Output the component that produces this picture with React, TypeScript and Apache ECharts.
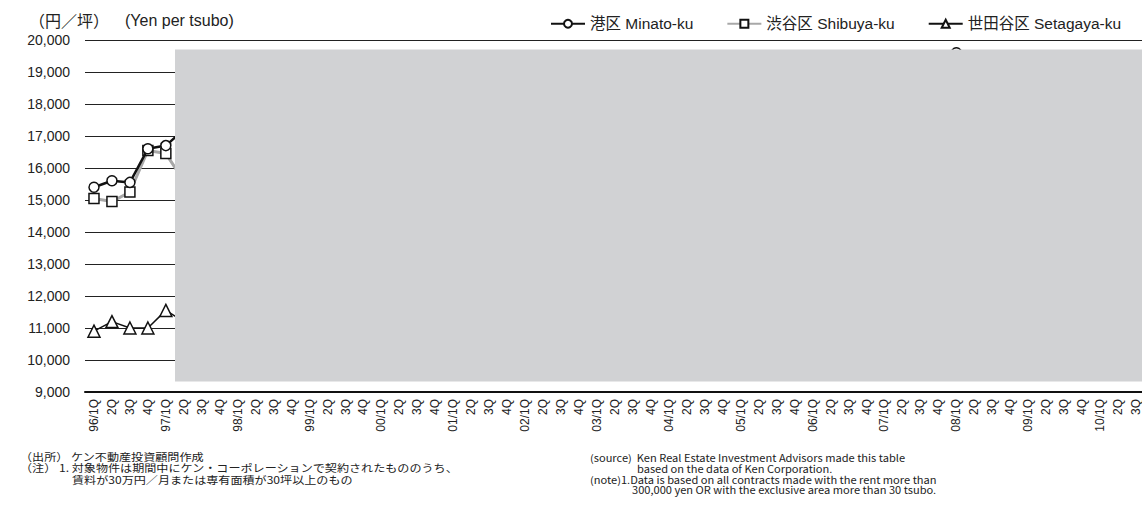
import React, { useEffect, useRef } from "react";
import * as echarts from "echarts";

// Quarterly labels, 96/1Q .. 10/3Q
const categories: string[] = [
  "96/1Q", "2Q", "3Q", "4Q",
  "97/1Q", "2Q", "3Q", "4Q",
  "98/1Q", "2Q", "3Q", "4Q",
  "99/1Q", "2Q", "3Q", "4Q",
  "00/1Q", "2Q", "3Q", "4Q",
  "01/1Q", "2Q", "3Q", "4Q",
  "02/1Q", "2Q", "3Q", "4Q",
  "03/1Q", "2Q", "3Q", "4Q",
  "04/1Q", "2Q", "3Q", "4Q",
  "05/1Q", "2Q", "3Q", "4Q",
  "06/1Q", "2Q", "3Q", "4Q",
  "07/1Q", "2Q", "3Q", "4Q",
  "08/1Q", "2Q", "3Q", "4Q",
  "09/1Q", "2Q", "3Q", "4Q",
  "10/1Q", "2Q", "3Q",
];

// Rent per tsubo (yen); quarters behind the masked panel are left empty
const minatoVisible: (number | null)[] = [15400, 15600, 15550, 16600, 16700, 17200];
const shibuyaVisible: (number | null)[] = [15050, 14950, 15250, 16550, 16450, 15600];
const setagayaVisible: (number | null)[] = [10900, 11200, 11000, 11000, 11550, 11200];
const minatoPeak = { label: "08/1Q", index: 48, value: 19600 };

const yTicks = { min: 9000, max: 20000, step: 1000 };

const seriesNames = ["港区 Minato-ku", "渋谷区 Shibuya-ku", "世田谷区 Setagaya-ku"];

const notesJa = [
  "（出所） ケン不動産投資顧問作成",
  "（注） 1. 対象物件は期間中にケン・コーポレーションで契約されたもののうち、",
  "賃料が30万円／月または専有面積が30坪以上のもの",
];
const notesEn = [
  "(source)  Ken Real Estate Investment Advisors made this table",
  "based on the data of Ken Corporation.",
  "(note)1.Data is based on all contracts made with the rent more than",
  "300,000 yen OR with the exclusive area more than 30 tsubo.",
];

function fill(values: (number | null)[]): (number | null)[] {
  return categories.map((_, i) => (i < values.length ? values[i] : null));
}

const minato = fill(minatoVisible);
minato[minatoPeak.index] = minatoPeak.value;
const shibuya = fill(shibuyaVisible);
const setagaya = fill(setagayaVisible);

const LATIN = "'Liberation Sans', Arial, 'Noto Sans CJK JP', sans-serif";
const CJK = "'Noto Sans CJK JP', 'Liberation Sans', sans-serif";

export default function App() {
  const ref = useRef<HTMLDivElement>(null);

  useEffect(() => {
    if (!ref.current) return;
    const chart = echarts.init(ref.current, undefined, { renderer: "svg" });

    const noteStyle = {
      fill: "#222",
      fontSize: 10.8,
      lineHeight: 11,
      fontFamily: CJK,
      verticalAlign: "middle",
    };
    const enStyle = {
      fill: "#222",
      fontSize: 10,
      lineHeight: 10,
      fontFamily: CJK,
      verticalAlign: "middle",
    };
    const jaNote = (x: number, y: number, text: string) => ({
      type: "text",
      x,
      y,
      scaleX: 1.12,
      style: { text, ...noteStyle },
    });
    const enNote = (x: number, y: number, text: string) => ({
      type: "text",
      x,
      y,
      scaleX: 1.11,
      style: { text, ...enStyle },
    });

    chart.setOption({
      animation: false,
      backgroundColor: "#ffffff",
      textStyle: { fontFamily: LATIN },
      grid: { left: 85, right: -3, top: 40, bottom: 116, outerBoundsMode: "none" },
      legend: {
        left: 545,
        top: 11,
        itemWidth: 34,
        itemHeight: 10,
        itemGap: 33,
        textStyle: { fontSize: 15.5, color: "#222", fontFamily: LATIN },
        data: seriesNames,
      },
      xAxis: {
        type: "category",
        data: categories,
        boundaryGap: true,
        axisLine: { lineStyle: { color: "#111", width: 2 } },
        axisTick: { show: false },
        axisLabel: { interval: 0, rotate: 90, fontSize: 12, color: "#222", margin: 7 },
      },
      yAxis: {
        type: "value",
        min: yTicks.min,
        max: yTicks.max,
        interval: yTicks.step,
        axisLine: { show: false },
        axisTick: { show: false },
        axisLabel: {
          fontSize: 14,
          color: "#222",
          margin: 15,
          formatter: (v: number) => v.toLocaleString("en-US"),
        },
        splitLine: { lineStyle: { color: "#222", width: 1 } },
      },
      series: [
        {
          name: seriesNames[0],
          type: "line",
          data: minato,
          symbol: "circle",
          symbolSize: 10,
          showSymbol: true,
          lineStyle: { color: "#111", width: 2.5 },
          itemStyle: { color: "#fff", borderColor: "#111", borderWidth: 1.5 },
          z: 4,
        },
        {
          name: seriesNames[1],
          type: "line",
          data: shibuya,
          symbol: "rect",
          symbolSize: 10,
          showSymbol: true,
          lineStyle: { color: "#a8a8a8", width: 3 },
          itemStyle: { color: "#fff", borderColor: "#111", borderWidth: 1.5 },
          z: 3,
        },
        {
          name: seriesNames[2],
          type: "line",
          data: setagaya,
          symbol: "triangle",
          symbolSize: 12,
          showSymbol: true,
          lineStyle: { color: "#111", width: 1.5 },
          itemStyle: { color: "#fff", borderColor: "#111", borderWidth: 1.5 },
          z: 2,
        },
      ],
      graphic: [
        // grey masking panel over the plot
        {
          type: "rect",
          z: 100,
          shape: { x: 175, y: 49.5, width: 980, height: 332 },
          style: { fill: "#d1d2d4" },
        },
        {
          type: "text",
          x: 29,
          y: 20,
          style: { text: "（円／坪）", fontSize: 16, fontFamily: CJK, fill: "#222", verticalAlign: "middle" },
        },
        {
          type: "text",
          x: 125,
          y: 20,
          style: { text: "(Yen per tsubo)", fontSize: 16, fontFamily: LATIN, fill: "#222", verticalAlign: "middle" },
        },
        jaNote(20, 456, notesJa[0]),
        jaNote(20, 467.5, notesJa[1]),
        jaNote(72, 479, notesJa[2]),
        enNote(590, 458, notesEn[0]),
        enNote(637, 468.7, notesEn[1]),
        enNote(590, 479.4, notesEn[2]),
        enNote(632, 490.1, notesEn[3]),
      ],
    });

    return () => chart.dispose();
  }, []);

  return (
    <div style={{ position: "fixed", left: 0, top: 0, width: 1142, height: 508, overflow: "hidden", background: "#fff" }}>
      <div ref={ref} style={{ width: 1142, height: 508 }} />
    </div>
  );
}
